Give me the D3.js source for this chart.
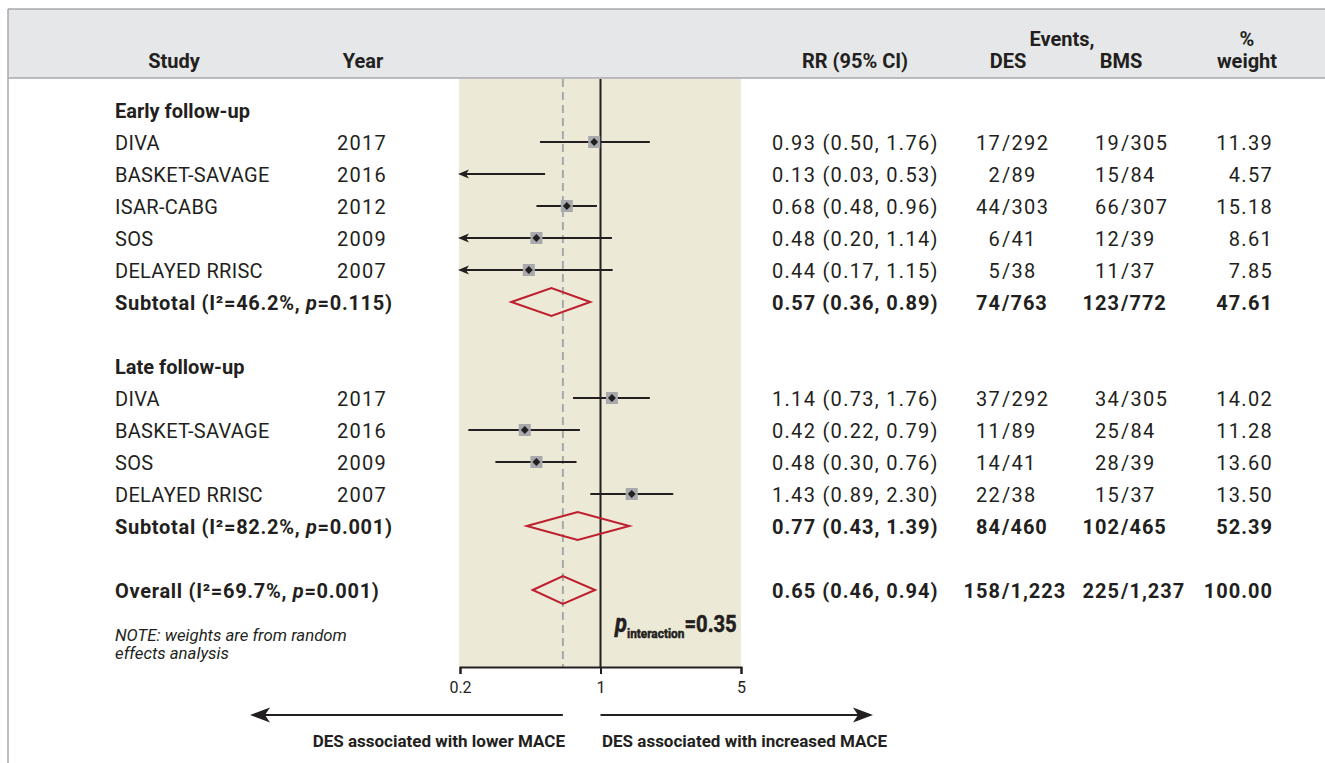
<!DOCTYPE html>
<html>
<head>
<meta charset="utf-8">
<script src="https://cdn.jsdelivr.net/npm/d3@7"></script>
<style>
  html, body { margin: 0; padding: 0; background: #ffffff; }
  svg { display: block; }
  text { font-family: Roboto, "Liberation Sans", Arial, sans-serif; fill: #231f20; }
</style>
</head>
<body>
<svg id="chart" width="1325" height="763"></svg>
<script>
// ---------------- DATA ----------------
const groupNames = ["Early follow-up", "Late follow-up"];
const studyNames = ["DIVA", "BASKET-SAVAGE", "ISAR-CABG", "SOS", "DELAYED RRISC",
                    "DIVA", "BASKET-SAVAGE", "SOS", "DELAYED RRISC"];
const studyGroup = [0, 0, 0, 0, 0, 1, 1, 1, 1];
const studyYears = ["2017", "2016", "2012", "2009", "2007", "2017", "2016", "2009", "2007"];
const rrEst  = [0.93, 0.13, 0.68, 0.48, 0.44, 1.14, 0.42, 0.48, 1.43];
const rrLow  = [0.50, 0.03, 0.48, 0.20, 0.17, 0.73, 0.22, 0.30, 0.89];
const rrHigh = [1.76, 0.53, 0.96, 1.14, 1.15, 1.76, 0.79, 0.76, 2.30];
const desEvents = ["17/292", "2/89", "44/303", "6/41", "5/38", "37/292", "11/89", "14/41", "22/38"];
const bmsEvents = ["19/305", "15/84", "66/307", "12/39", "11/37", "34/305", "25/84", "28/39", "15/37"];
const weights = ["11.39", "4.57", "15.18", "8.61", "7.85", "14.02", "11.28", "13.60", "13.50"];

const pooledKind = ["Subtotal", "Subtotal", "Overall"];
const pooledI2 = ["46.2", "82.2", "69.7"];
const pooledP = ["0.115", "0.001", "0.001"];
const pooledEst  = [0.57, 0.77, 0.65];
const pooledLow  = [0.36, 0.43, 0.46];
const pooledHigh = [0.89, 1.39, 0.94];
const pooledDes = ["74/763", "84/460", "158/1,223"];
const pooledBms = ["123/772", "102/465", "225/1,237"];
const pooledWeight = ["47.61", "52.39", "100.00"];

const axisTicks = [0.2, 1, 5];
const pInteraction = "0.35";
const noteLines = ["NOTE: weights are from random", "effects analysis"];
const directionLabels = ["DES associated with lower MACE", "DES associated with increased MACE"];

// ---------------- LAYOUT ----------------
const svg = d3.select("#chart");
const W = 1325, H = 763;
const headTop = 9, headBottom = 78, axisY = 667;
const ink = "#231f20", gridGray = "#a7a9ac", red = "#be1e2d";

const x = d3.scaleLog().domain([0.2, 5]).range([460, 741]);

// row layout: group header, studies, subtotal, blank ... overall
const rows = [];
let ri = 0;
groupNames.forEach((g, gi) => {
  rows.push({type: "group", idx: ri++, label: g});
  studyNames.forEach((s, i) => { if (studyGroup[i] === gi) rows.push({type: "study", idx: ri++, i}); });
  rows.push({type: "pooled", idx: ri++, i: gi});
  ri++; // blank
});
rows.push({type: "pooled", idx: ri++, i: 2});
const y = d3.scalePoint().domain(d3.range(ri)).range([110, 110 + 32 * (ri - 1)]);
const TY = 8; // baseline offset

// header band
svg.append("rect").attr("x", 8).attr("y", headTop).attr("width", W - 8).attr("height", headBottom - headTop)
  .attr("fill", "#e6e7e8");
svg.append("line").attr("x1", 8).attr("x2", W).attr("y1", headTop).attr("y2", headTop)
  .attr("stroke", gridGray).attr("stroke-width", 1.5);
svg.append("line").attr("x1", 8).attr("x2", W).attr("y1", headBottom).attr("y2", headBottom)
  .attr("stroke", gridGray).attr("stroke-width", 1.5);
svg.append("line").attr("x1", 8).attr("x2", 8).attr("y1", headTop).attr("y2", H)
  .attr("stroke", gridGray).attr("stroke-width", 1.5);

// beige panel
svg.append("rect").attr("x", x(0.2) - 1).attr("y", headBottom + 1)
  .attr("width", x(5) - x(0.2) + 1).attr("height", axisY - headBottom - 1)
  .attr("fill", "#ece9d6");

// headers
function hText(xp, yp, str, anchor) {
  return svg.append("text").attr("x", xp).attr("y", yp).attr("text-anchor", anchor || "middle")
    .attr("font-size", 20).attr("font-weight", 700).text(str);
}
hText(174, 68, "Study");
hText(363, 68, "Year");
hText(855, 68, "RR (95% CI)");
hText(1062, 46, "Events,");
hText(1008, 68, "DES");
hText(1121, 68, "BMS");
hText(1247, 46, "%");
hText(1247, 68, "weight");

// reference lines
svg.append("line").attr("x1", x(pooledEst[2])).attr("x2", x(pooledEst[2]))
  .attr("y1", headBottom + 1).attr("y2", axisY)
  .attr("stroke", gridGray).attr("stroke-width", 2).attr("stroke-dasharray", "8,5");
svg.append("line").attr("x1", x(1)).attr("x2", x(1)).attr("y1", headBottom + 1).attr("y2", axisY)
  .attr("stroke", ink).attr("stroke-width", 2);

// axis
const axis = d3.axisBottom(x).tickValues(axisTicks).tickFormat(d3.format("~g")).tickSizeOuter(0).tickSize(7).tickPadding(8);
const gAxis = svg.append("g").attr("transform", `translate(0,${axisY})`).call(axis);
gAxis.select(".domain").attr("stroke", ink).attr("stroke-width", 2);
gAxis.selectAll(".tick line").attr("stroke", ink).attr("stroke-width", 2);
gAxis.selectAll(".tick text").attr("font-size", 16).attr("fill", "#4d4d4d")
  .attr("font-family", "Roboto, 'Liberation Sans', Arial, sans-serif");

// text helpers
function cellText(xp, row, str, anchor, bold) {
  return svg.append("text").attr("x", xp).attr("y", y(row) + TY).attr("text-anchor", anchor)
    .attr("font-size", 20).attr("font-weight", bold ? 700 : 400)
    .attr("letter-spacing", bold ? "1px" : "1.3px").text(str);
}
function slashText(xs, row, str, bold) {
  const k = str.indexOf("/");
  cellText(xs - 1, row, str.slice(0, k), "end", bold);
  cellText(xs, row, str.slice(k), "start", bold);
}
const fmt = d3.format(".2f");
const rrStr = (e, l, h) => `${fmt(e)} (${fmt(l)}, ${fmt(h)})`;
const desSlash = 1002, bmsSlash = 1121, weightRight = 1273;

function leftHead(tipX, cy, len, half, notch) {
  return `M${tipX},${cy} L${tipX + len},${cy - half} L${tipX + len - notch},${cy} L${tipX + len},${cy + half} Z`;
}
function rightHead(tipX, cy, len, half, notch) {
  return `M${tipX},${cy} L${tipX - len},${cy - half} L${tipX - len + notch},${cy} L${tipX - len},${cy + half} Z`;
}

const [dMin, dMax] = x.domain();
rows.forEach(r => {
  const yc = y(r.idx);
  if (r.type === "group") {
    cellText(115, r.idx, r.label, "start", true).attr("letter-spacing", null);
  } else if (r.type === "study") {
    const i = r.i;
    cellText(115, r.idx, studyNames[i], "start", false).attr("letter-spacing", "0.3px");
    cellText(337, r.idx, studyYears[i], "start", false);
    cellText(772, r.idx, rrStr(rrEst[i], rrLow[i], rrHigh[i]), "start", false);
    slashText(desSlash, r.idx, desEvents[i], false);
    slashText(bmsSlash, r.idx, bmsEvents[i], false);
    cellText(weightRight, r.idx, weights[i], "end", false);
    // CI line
    const lowClip = rrLow[i] <= dMin;
    const x1 = lowClip ? x(dMin) + 4 : x(rrLow[i]);
    const x2 = x(Math.min(rrHigh[i], dMax));
    svg.append("line").attr("x1", x1).attr("x2", x2).attr("y1", yc).attr("y2", yc)
      .attr("stroke", ink).attr("stroke-width", 2.2);
    if (lowClip) {
      svg.append("path").attr("d", leftHead(x(dMin) - 2, yc, 11, 4.5, 3)).attr("fill", ink);
    }
    if (rrEst[i] >= dMin && rrEst[i] <= dMax) {
      const cx = x(rrEst[i]);
      svg.append("rect").attr("x", cx - 6).attr("y", yc - 6).attr("width", 12).attr("height", 12)
        .attr("fill", gridGray);
      svg.append("path").attr("d", d3.symbol().type(d3.symbolDiamond2).size(40)())
        .attr("transform", `translate(${cx},${yc})`).attr("fill", ink);
    }
  } else {
    const i = r.i;
    const t = svg.append("text").attr("x", 115).attr("y", yc + TY).attr("font-size", 20)
      .attr("font-weight", 700).attr("letter-spacing", "0.7px");
    t.append("tspan").text(`${pooledKind[i]} (I²=${pooledI2[i]}%, `);
    t.append("tspan").attr("font-style", "italic").text("p");
    t.append("tspan").text(`=${pooledP[i]})`);
    cellText(772, r.idx, rrStr(pooledEst[i], pooledLow[i], pooledHigh[i]), "start", true);
    slashText(desSlash, r.idx, pooledDes[i], true);
    slashText(bmsSlash, r.idx, pooledBms[i], true);
    cellText(weightRight, r.idx, pooledWeight[i], "end", true);
    const xl = x(pooledLow[i]), xm = x(pooledEst[i]), xh = x(pooledHigh[i]);
    svg.append("path").attr("d", `M${xl},${yc} L${xm},${yc - 14} L${xh},${yc} L${xm},${yc + 14} Z`)
      .attr("fill", "none").attr("stroke", red).attr("stroke-width", 2);
  }
});

// p interaction
const pg = svg.append("g").attr("transform", "translate(615,632) scale(0.88,1)");
const pt = pg.append("text").attr("x", 0).attr("y", 0).attr("font-weight", 700)
  .attr("stroke", ink).attr("stroke-width", 0.5);
pt.append("tspan").attr("font-size", 25).attr("font-style", "italic").text("p");
pt.append("tspan").attr("font-size", 13.5).attr("dy", 6).text("interaction");
pt.append("tspan").attr("font-size", 23).attr("dy", -6).text("=" + pInteraction);

// note
noteLines.forEach((s, k) => {
  svg.append("text").attr("x", 115).attr("y", 641 + k * 18).attr("font-size", 16.8)
    .attr("font-style", "italic").attr("fill", ink).text(s);
});

// direction arrows
const arrowY = 715;
svg.append("line").attr("x1", 262).attr("x2", x(pooledEst[2])).attr("y1", arrowY).attr("y2", arrowY)
  .attr("stroke", ink).attr("stroke-width", 2);
svg.append("path").attr("d", leftHead(250, arrowY, 20, 7.5, 5)).attr("fill", ink);
svg.append("line").attr("x1", x(1)).attr("x2", 862).attr("y1", arrowY).attr("y2", arrowY)
  .attr("stroke", ink).attr("stroke-width", 2);
svg.append("path").attr("d", rightHead(873, arrowY, 20, 7.5, 5)).attr("fill", ink);

svg.append("text").attr("x", 565).attr("y", 747).attr("text-anchor", "end").attr("font-size", 17)
  .attr("font-weight", 700).text(directionLabels[0]);
svg.append("text").attr("x", 602).attr("y", 747).attr("text-anchor", "start").attr("font-size", 17)
  .attr("font-weight", 700).text(directionLabels[1]);
</script>
</body>
</html>
